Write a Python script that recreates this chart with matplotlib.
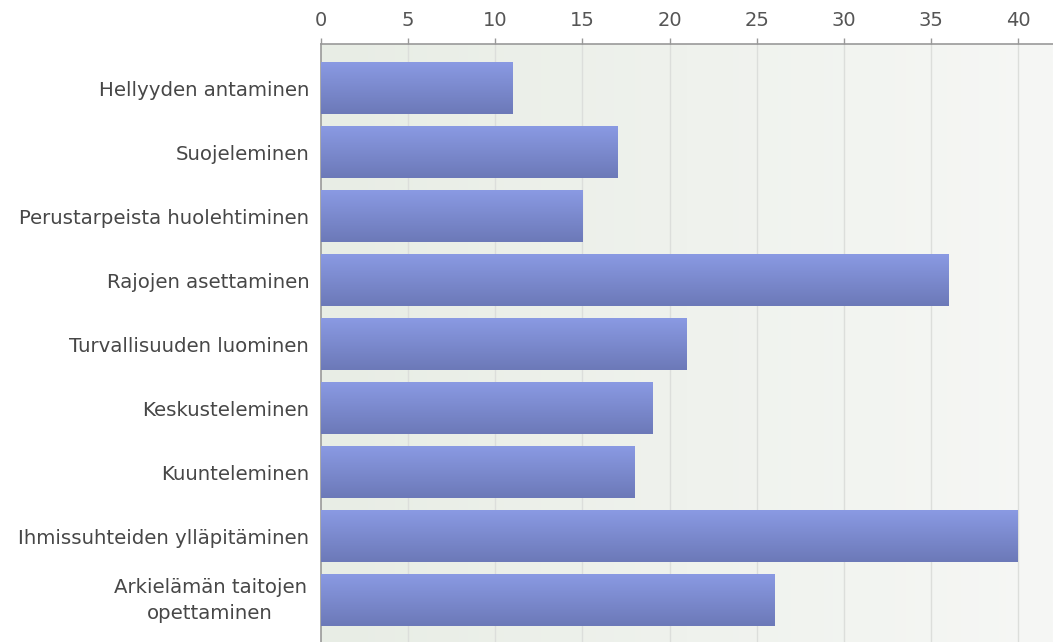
import numpy as np
import matplotlib
matplotlib.use("Agg")
import matplotlib.pyplot as plt
from matplotlib.colors import LinearSegmentedColormap
from matplotlib.transforms import blended_transform_factory, offset_copy

categories = ["Hellyyden antaminen", "Suojeleminen", "Perustarpeista huolehtiminen",
              "Rajojen asettaminen", "Turvallisuuden luominen", "Keskusteleminen",
              "Kuunteleminen", "Ihmissuhteiden ylläpitäminen",
              "Arkielämän taitojen\nopettaminen"]
values = [11, 17, 15, 36, 21, 19, 18, 40, 26]
xticks = [0, 5, 10, 15, 20, 25, 30, 35, 40]

plt.rcParams['font.family'] = ['DejaVu Sans']
fig = plt.figure(figsize=(10.53, 6.42), dpi=100)
ax = fig.add_axes([321/1053, 0, 1 - 321/1053, 1 - 44/642])

n = len(categories)
ypos = np.arange(n)
XMAX = (1053 - 321) / ((1018 - 321) / 40)
YLIM = (n - 1 + 0.656, -0.6875)

bg = LinearSegmentedColormap.from_list("bg", ["#e8ede5", "#f6f7f5"])
ax.imshow(np.linspace(0, 1, 256).reshape(1, -1), cmap=bg, aspect='auto',
          extent=[0, 1, 0, 1], transform=ax.transAxes, zorder=0)

for t in xticks[1:]:
    ax.axvline(t, color="#dcdedb", lw=1, zorder=1)

bar_cmap = LinearSegmentedColormap.from_list("bar", ["#8a9ae3", "#6c79b8"])
bars = ax.barh(ypos, values, height=0.81, color="#7a88cc", zorder=2,
               edgecolor="none")
grad = np.linspace(0, 1, 256).reshape(-1, 1)
for b in bars:
    x0, y0 = b.get_x(), b.get_y()
    w, h = b.get_width(), b.get_height()
    im = ax.imshow(grad, cmap=bar_cmap, aspect='auto',
                   extent=[x0, x0 + w, y0 + h, y0], zorder=3)
    im.set_clip_path(b)
ax.set_xlim(0, XMAX)
ax.set_ylim(*YLIM)

ax.xaxis.tick_top()
ax.set_xticks(xticks)
ax.set_xticklabels([str(t) for t in xticks])
ax.set_yticks(ypos)
ax.set_yticklabels(categories, ha='right', multialignment='center')
ax.tick_params(axis='y', length=0, pad=8.5, labelsize=14.2, labelcolor="#474747")
ax.tick_params(axis='x', length=4, width=1, color="#999999", pad=6,
               labelsize=14, labelcolor="#555555")

for s in ['right', 'bottom']:
    ax.spines[s].set_visible(False)
for s in ['top', 'left']:
    ax.spines[s].set_color("#999999")
    ax.spines[s].set_linewidth(1.2)

lbls = ax.get_yticklabels()
lbls[-1].set_ha('center')
tr = blended_transform_factory(fig.transFigure, ax.transData)
lbls[-1].set_transform(offset_copy(tr, fig=fig, x=0, y=5, units='dots'))
lbls[-1].set_position((210/1053, n - 1))
lbls[-1].set_linespacing(1.45)

fig.savefig("out.png", dpi=100)
